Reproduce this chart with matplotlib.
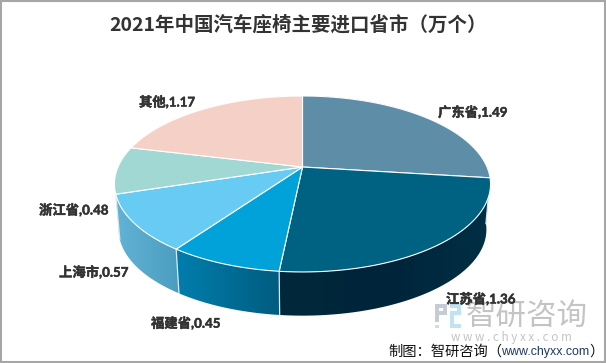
import numpy as np
import matplotlib
matplotlib.use("Agg")
import matplotlib.pyplot as plt
import matplotlib.patheffects as pe
from matplotlib.colors import LinearSegmentedColormap
from matplotlib.patches import Polygon, Rectangle

TITLE = "2021年中国汽车座椅主要进口省市（万个）"
categories = ["广东省", "江苏省", "福建省", "上海市", "浙江省", "其他"]
values = [1.49, 1.36, 0.45, 0.57, 0.48, 1.17]
top_colors = ["#5E8EA7", "#006283", "#00A2DA", "#67CBF4", "#A1D8D3", "#F5D0C7"]
side_colors = [
    ["#002A3E", "#002A3E"],
    ["#00293B", "#00243A", "#012F45"],
    ["#007EAE", "#005C80"],
    ["#62B3D6", "#4B9DC0"],
    ["#7FB5B0", "#6FA5A0"],
    ["#C9A89F", "#C9A89F"],
]
label_pos = [(438, 112), (446, 299), (151, 323), (59, 272), (39, 210), (139, 102)]

plt.rcParams["font.family"] = ["Noto Sans CJK SC", "DejaVu Sans"]
W, H = 606, 363
fig = plt.figure(figsize=(W / 100, H / 100), dpi=100, facecolor="white")
ax = fig.add_axes([0, 0, 1, 1])
ax.axis("off")

# perspective pie geometry
CX, CY, RX, RY, K = 302.5, 167.0, 184.5, 84.7, 0.193
DEPTH, SHRINK = 46.0, 0.978


def rim(deg, scale=1.0, dy=0.0):
    a = np.radians(deg)
    u, v = np.sin(a), -np.cos(a)
    d = 1 - K * v
    return np.column_stack([CX + scale * RX * u / d, CY + dy + scale * RY * v / d])


edges = np.concatenate([[0], np.cumsum(values)]) / np.sum(values) * 360

# side walls, back to front
order = sorted(range(len(values)), key=lambda i: -abs(((edges[i] + edges[i + 1]) / 2) - 180))
for i in order:
    t = np.linspace(edges[i], edges[i + 1], 120)
    top, bot = rim(t), rim(t, SHRINK, DEPTH)
    pts = np.vstack([top, bot[::-1]])
    x0, x1 = pts[:, 0].min(), pts[:, 0].max()
    y0, y1 = pts[:, 1].min(), pts[:, 1].max()
    clip = Polygon(pts, closed=True, transform=ax.transData, fc="none", ec="none")
    ax.add_patch(clip)
    cmap = LinearSegmentedColormap.from_list("s", side_colors[i])
    im = ax.imshow(np.linspace(0, 1, 256).reshape(1, -1), cmap=cmap, aspect="auto",
                   extent=(x0, x1, y1, y0), zorder=2, interpolation="bilinear")
    im.set_clip_path(clip)

# seams on the wall
for e in edges:
    if 97 <= (e % 360) <= 255:
        p, q = rim(e), rim(e, SHRINK, DEPTH)
        ax.plot([p[0, 0], q[0, 0]], [p[0, 1], q[0, 1]], color="#DDE8EE", lw=0.9, zorder=3)

# top faces
for i in range(len(values)):
    t = np.linspace(edges[i], edges[i + 1], 160)
    pts = np.vstack([[CX, CY], rim(t)])
    ax.add_patch(Polygon(pts, closed=True, fc=top_colors[i], ec="white", lw=0.8,
                         joinstyle="round", zorder=4))

# title and labels
ax.text(298.5, 25, TITLE, ha="center", va="center", fontsize=14.0, fontweight="bold",
        color="#333333", zorder=6)
bolder = [pe.withStroke(linewidth=0.35, foreground="#333333")]
for name, val, (x, y) in zip(categories, values, label_pos):
    ax.text(x, y, f"{name},{val:.2f}", ha="left", va="center", fontsize=9.6, fontweight="bold",
            color="#333333", family=["Lato", "Noto Sans CJK SC"], zorder=6, path_effects=bolder)

# watermark logo
for rx, ry, rw, rh, c in [
    (435, 304, 12, 4, "#C5CCD8"), (435, 304, 4, 18, "#C5CCD8"), (443, 304, 4, 11, "#C5CCD8"),
    (435, 311, 12, 4, "#C5CCD8"), (450, 304, 11, 4, "#BFE3F5"), (457, 304, 4, 11, "#BFE3F5"),
    (450, 311, 11, 4, "#BFE3F5"), (450, 311, 4, 17, "#BFE3F5"), (450, 324, 11, 4, "#BFE3F5"),
    (435, 325, 4, 3, "#BFE3F5"),
]:
    ax.add_patch(Rectangle((rx, ry), rw, rh, fc=c, ec="none", zorder=5))
ax.text(527, 316, "智研咨询", ha="center", va="center", fontsize=22, color="#C4C4C4", zorder=5)
ax.text(511, 337, "w w w . c h y x x . c o m", ha="center", va="center", fontsize=8.4,
        color="#C4C4C4", zorder=5)

# source line
ax.text(388, 352, "制图：智研咨询（", ha="left", va="center", fontsize=10.3, color="#111111", zorder=7)
ax.text(501, 352, "www.chyxx.com", ha="left", va="center", fontsize=8.9,
        family=["Liberation Sans"], color="#1F3864", zorder=7)
ax.text(589, 352, "）", ha="left", va="center", fontsize=10.3, color="#111111", zorder=7)

# frame
ax.add_patch(Rectangle((0.5, 0.5), W - 2, H - 2, fc="none", ec="#A6A6A6", lw=1.5, zorder=8))

ax.set_xlim(0, W)
ax.set_ylim(H, 0)
fig.savefig("out.png", dpi=100, facecolor="white")
